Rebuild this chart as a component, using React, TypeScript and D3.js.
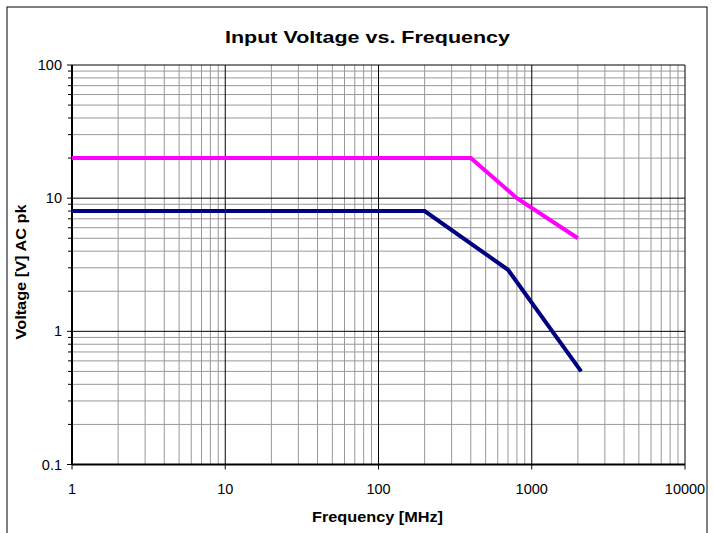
import React from "react";
import * as d3 from "d3";

// data
const freqTicks = [1, 10, 100, 1000, 10000];
const voltTicks = [0.1, 1, 10, 100];
const pinkFreq = [1, 400, 800, 2000];
const pinkVolt = [20, 20, 10, 5];
const navyFreq = [1, 200, 700, 2100];
const navyVolt = [8, 8, 2.9, 0.5];

const W = 713;
const H = 533;
const left = 72;
const right = 685;
const top = 65;
const bottom = 464.5;

const font = "'Liberation Sans', Arial, sans-serif";

const App = () => {
  const x = d3.scaleLog().domain([1, 10000]).range([left, right]);
  const y = d3.scaleLog().domain([0.1, 100]).range([bottom, top]);

  const minorX: number[] = [];
  freqTicks.slice(0, -1).forEach(d => {
    for (let k = 2; k <= 9; k++) minorX.push(d * k);
  });
  const minorY: number[] = [];
  voltTicks.slice(0, -1).forEach(d => {
    for (let k = 2; k <= 9; k++) minorY.push(d * k);
  });

  const line = d3
    .line<[number, number]>()
    .x(d => x(d[0]))
    .y(d => y(d[1]));
  const pink = pinkFreq.map((f, i) => [f, pinkVolt[i]] as [number, number]);
  const navy = navyFreq.map((f, i) => [f, navyVolt[i]] as [number, number]);

  return (
    <svg
      width={W}
      height={H}
      style={{ position: "absolute", left: 0, top: 0, background: "#fff" }}
      fontFamily={font}
    >
      <rect x={7} y={7} width={700} height={540} fill="#fff" stroke="#000" strokeWidth={1} />
      <text
        x={367.5}
        y={43}
        textAnchor="middle"
        fontSize={17}
        fontWeight="bold"
        textLength={285}
        lengthAdjust="spacingAndGlyphs"
      >
        Input Voltage vs. Frequency
      </text>

      {/* minor grid */}
      {minorX.map(d => (
        <line key={"mx" + d} x1={x(d)} x2={x(d)} y1={top} y2={bottom} stroke="#999" strokeWidth={1} />
      ))}
      {minorY.map(d => (
        <line key={"my" + d} x1={left} x2={right} y1={y(d)} y2={y(d)} stroke="#999" strokeWidth={1} />
      ))}
      {/* major grid */}
      {freqTicks.map(d => (
        <line key={"Mx" + d} x1={x(d)} x2={x(d)} y1={top} y2={bottom + 5} stroke="#000" strokeWidth={1} />
      ))}
      {voltTicks.map(d => (
        <line key={"My" + d} x1={left - 5} x2={right} y1={y(d)} y2={y(d)} stroke="#000" strokeWidth={1} />
      ))}
      {minorY.map(d => (
        <line key={"ty" + d} x1={left - 4} x2={left} y1={y(d)} y2={y(d)} stroke="#000" strokeWidth={1} />
      ))}

      {/* axes */}
      <line x1={left} x2={left} y1={top} y2={bottom} stroke="#000" strokeWidth={2} />
      <line x1={left} x2={right} y1={bottom} y2={bottom} stroke="#000" strokeWidth={2} />

      {/* series */}
      <path d={line(pink) || ""} fill="none" stroke="#ff00ff" strokeWidth={4} />
      <path d={line(navy) || ""} fill="none" stroke="#000080" strokeWidth={4} />

      {/* tick labels */}
      {voltTicks.map(d => (
        <text key={"ly" + d} x={left - 10} y={y(d) + 5} textAnchor="end" fontSize={14.5}>
          {d}
        </text>
      ))}
      {freqTicks.map(d => (
        <text key={"lx" + d} x={x(d)} y={bottom + 29} textAnchor="middle" fontSize={14.5}>
          {d}
        </text>
      ))}

      <text
        x={377.5}
        y={522}
        textAnchor="middle"
        fontSize={14}
        fontWeight="bold"
        textLength={131}
        lengthAdjust="spacingAndGlyphs"
      >
        Frequency [MHz]
      </text>
      <text
        transform="translate(26,272) rotate(-90)"
        textAnchor="middle"
        fontSize={14}
        fontWeight="bold"
        textLength={135}
        lengthAdjust="spacingAndGlyphs"
      >
        Voltage [V] AC pk
      </text>
    </svg>
  );
};

export default App;
